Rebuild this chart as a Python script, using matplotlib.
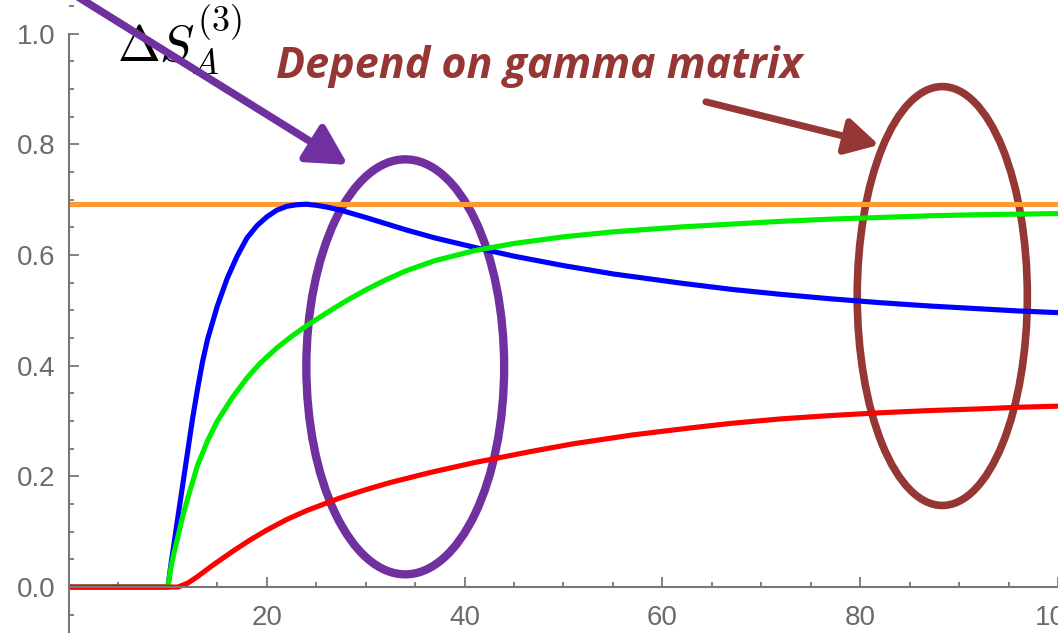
import numpy as np
import matplotlib.pyplot as plt
from matplotlib.patches import Ellipse
from matplotlib.ticker import MultipleLocator

plt.rcParams['mathtext.fontset'] = 'cm'

# Curve values
orange_x = [0, 100]
orange_y = [0.693, 0.693]

blue_x = [0, 10, 10.3, 10.6, 11, 11.5, 12, 12.5, 13, 13.5, 14, 15, 16, 17, 18, 19, 20,
          21, 22, 23, 24, 25, 26, 27.5, 30, 32, 34, 37, 41, 45, 50, 55, 62, 67, 72,
          77, 82, 87, 92, 96, 100]
blue_y = [0, 0, 0.04, 0.076, 0.125, 0.185, 0.245, 0.305, 0.358, 0.407, 0.447, 0.508,
          0.558, 0.598, 0.631, 0.653, 0.669, 0.681, 0.688, 0.691, 0.692, 0.690, 0.687,
          0.681, 0.668, 0.657, 0.646, 0.631, 0.614, 0.598, 0.581, 0.566, 0.549, 0.538,
          0.529, 0.521, 0.514, 0.508, 0.503, 0.499, 0.496]

green_x = [0, 10, 10.3, 10.6, 11, 11.5, 12, 13, 14, 15, 16.5, 18, 19.3, 21, 22.5, 24,
           26, 28, 30, 32, 34, 37, 41, 45, 50, 55, 62, 67, 72, 77, 82, 87, 92, 96, 100]
green_y = [0, 0, 0.035, 0.06, 0.09, 0.128, 0.16, 0.22, 0.264, 0.300, 0.342, 0.378,
           0.404, 0.432, 0.453, 0.472, 0.495, 0.517, 0.537, 0.555, 0.571, 0.590, 0.608,
           0.621, 0.633, 0.642, 0.651, 0.656, 0.661, 0.665, 0.668, 0.671, 0.673, 0.674,
           0.675]

red_x = [0, 11, 12, 13, 14.5, 16.5, 18.3, 20, 22, 24, 27.4, 30, 32.5, 36.5, 41, 46.7,
         51, 57, 63, 67, 72, 77, 82, 87, 92, 96, 100]
red_y = [0, 0, 0.007, 0.019, 0.039, 0.064, 0.085, 0.103, 0.122, 0.138, 0.161, 0.176,
         0.189, 0.207, 0.225, 0.245, 0.259, 0.275, 0.288, 0.296, 0.304, 0.310, 0.315,
         0.319, 0.322, 0.325, 0.327]

fig = plt.figure(figsize=(10.58, 6.33), dpi=100)
ax = fig.add_axes([0.0652, 0, 0.9348, 1])

ax.plot(orange_x, orange_y, color='#ff9933', lw=3.7, solid_capstyle='butt')
ax.plot(blue_x, blue_y, color='#0000ff', lw=3.7)
ax.plot(green_x, green_y, color='#00ee00', lw=3.7)
ax.plot(red_x, red_y, color='#ff0000', lw=3.7)

ax.set_xlim(0, 100)
ax.set_ylim(-0.083, 1.061)

# Mathematica-like axes
for s in ['top', 'right']:
    ax.spines[s].set_visible(False)
ax.spines['bottom'].set_position(('data', 0))
ax.spines['left'].set_bounds(-0.083, 1.0)
for s in ['bottom', 'left']:
    ax.spines[s].set_color('#777777')
    ax.spines[s].set_linewidth(1.5)

ax.xaxis.set_minor_locator(MultipleLocator(5))
ax.yaxis.set_minor_locator(MultipleLocator(0.05))
ax.set_xticks([20, 40, 60, 80, 100])
ax.set_xticklabels(['20', '40', '60', '80', '100'])
ax.set_yticks([0, 0.2, 0.4, 0.6, 0.8, 1.0])
ax.set_yticklabels(['0.0', '0.2', '0.4', '0.6', '0.8', '1.0'])
ax.tick_params(which='major', direction='in', length=7, width=1.3, color='#777777',
               labelsize=20, labelcolor='#6b6b6b')
ax.tick_params(which='minor', direction='in', length=3.5, width=1.3, color='#777777')
ax.tick_params(axis='x', pad=13)
ax.tick_params(axis='y', pad=10)
for lab in ax.get_xticklabels() + ax.get_yticklabels():
    lab.set_family('Liberation Sans')

# Overlays
ax.text(4.9, 0.949, r'$\Delta S_A^{(3)}$', fontsize=37, color='black')

ax.text(47.5, 0.92, 'Depend on gamma matrix', fontsize=31, color='#953735',
        fontweight='bold', fontstyle='italic', family='Open Sans', ha='center')

ax.add_patch(Ellipse((34.0, 0.398), 20.0, 0.75, fill=False, ec='#7030a0', lw=6,
                     clip_on=False))
ax.add_patch(Ellipse((88.3, 0.526), 17.2, 0.757, fill=False, ec='#953735', lw=5.5,
                     clip_on=False))

ax.annotate('', xy=(28.2, 0.763), xytext=(0.6, 1.07),
            arrowprops=dict(arrowstyle='-|>,head_length=1.2,head_width=0.65',
                            color='#7030a0', lw=5.5, mutation_scale=20,
                            shrinkA=0, shrinkB=0), annotation_clip=False)
ax.annotate('', xy=(81.9, 0.799), xytext=(64.4, 0.877),
            arrowprops=dict(arrowstyle='-|>,head_length=1.0,head_width=0.55',
                            color='#953735', lw=5, mutation_scale=20,
                            shrinkA=0, shrinkB=0), annotation_clip=False)

plt.savefig('out.png', dpi=100)
